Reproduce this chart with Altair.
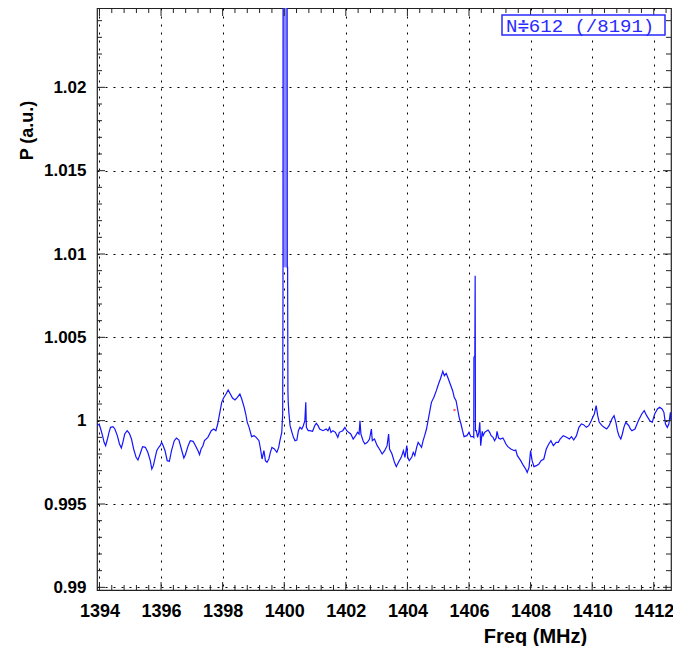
import altair as alt
import numpy as np
import pandas as pd

# ---- spectrum ----
freq = [
 1393.93,1393.99,1394.04,1394.10,1394.15,1394.20,1394.26,1394.31,1394.36,1394.44,1394.50,1394.58,1394.65,1394.71,
 1394.76,1394.82,1394.90,1394.97,1395.04,1395.11,1395.19,1395.25,1395.32,1395.40,1395.49,1395.57,1395.65,1395.70,
 1395.75,1395.81,1395.86,1395.91,1395.97,1396.02,1396.07,1396.13,1396.20,1396.27,1396.34,1396.43,1396.50,1396.58,
 1396.66,1396.74,1396.79,1396.88,1396.95,1397.04,1397.09,1397.20,1397.25,1397.30,1397.36,1397.41,1397.52,1397.63,
 1397.71,1397.78,1397.84,1397.89,1397.97,1398.03,1398.11,1398.18,1398.25,1398.32,1398.40,1398.48,1398.56,1398.62,
 1398.70,1398.75,1398.80,1398.86,1398.94,1399.02,1399.09,1399.18,1399.23,1399.28,1399.34,1399.39,1399.44,1399.50,
 1399.55,1399.60,1399.68,1399.76,1399.82,1399.86,1399.92,1399.95,1399.96,
 1399.965,1400.085,1400.10,1400.11,1400.12,1400.13,1400.15,1400.19,
 1400.25,1400.30,1400.35,1400.41,1400.46,1400.51,1400.57,1400.62,1400.67,1400.70,1400.72,1400.78,1400.83,1400.92,
 1400.99,1401.04,1401.10,1401.15,1401.26,1401.36,1401.42,1401.47,1401.52,1401.58,1401.66,1401.74,1401.79,1401.90,
 1401.97,1402.03,1402.09,1402.16,1402.24,1402.32,1402.38,1402.43,1402.46,1402.49,1402.56,1402.62,1402.70,1402.77,
 1402.83,1402.86,1402.93,1403.02,1403.09,1403.18,1403.26,1403.34,1403.39,1403.42,1403.50,1403.58,1403.64,1403.71,
 1403.80,1403.87,1403.92,1403.98,1404.01,1404.06,1404.14,1404.19,1404.24,1404.30,1404.35,1404.46,1404.51,1404.56,
 1404.62,1404.67,1404.72,1404.78,1404.86,1404.94,1405.01,1405.07,1405.15,1405.20,1405.26,1405.31,1405.39,1405.47,
 1405.52,1405.58,1405.63,1405.68,1405.74,1405.79,1405.84,1405.93,1406.00,1406.06,1406.14,1406.155,1406.16,1406.19,
 1406.20,1406.21,1406.24,1406.28,1406.32,1406.35,1406.38,1406.43,1406.46,1406.51,1406.56,1406.62,1406.67,1406.72,
 1406.78,1406.83,1406.88,1406.91,1406.96,1407.02,1407.10,1407.15,1407.20,1407.26,1407.36,1407.47,1407.52,1407.57,
 1407.68,1407.77,1407.84,1407.89,1407.95,1408.00,1408.05,1408.11,1408.19,1408.27,1408.34,1408.43,1408.51,1408.59,
 1408.66,1408.74,1408.83,1408.90,1408.96,1409.06,1409.17,1409.26,1409.33,1409.40,1409.49,1409.57,1409.65,1409.72,
 1409.81,1409.89,1409.97,1410.02,1410.07,1410.13,1410.18,1410.23,1410.32,1410.39,1410.47,1410.55,1410.64,1410.71,
 1410.77,1410.82,1410.87,1410.93,1410.98,1411.03,1411.09,1411.14,1411.19,1411.24,1411.29,1411.39,1411.50,1411.61,
 1411.69,1411.77,1411.87,1411.95,1412.03,1412.12,1412.19,1412.27,1412.33,1412.38,1412.44,1412.49,1412.54,1412.56,
]
power = [
 0.9997,0.9998,0.9995,0.9991,0.9987,0.9985,0.9989,0.9993,0.9996,0.99964,0.9995,0.9991,0.9986,0.99836,
 0.9987,0.9992,0.9994,0.99924,0.9989,0.9983,0.9978,0.99764,0.9980,0.99844,0.9984,0.9981,0.9976,0.9971,
 0.9973,0.9978,0.9982,0.99836,0.9985,0.9987,0.9985,0.9982,0.9976,0.99756,0.9982,0.9988,0.99896,0.99884,
 0.9983,0.99776,0.99796,0.9985,0.9988,0.99876,0.9986,0.9982,0.99796,0.9983,0.9985,0.9988,0.9990,0.9994,
 0.9995,0.9994,0.9998,1.0003,1.0011,1.00136,1.0016,1.00184,1.0016,1.00136,1.00124,1.0014,1.0016,1.0013,
 1.0008,1.0004,0.9999,0.9996,0.99904,0.9991,0.9990,0.9988,0.9983,0.9977,0.9982,0.9976,0.9975,0.9977,
 0.9981,0.9984,0.9983,0.9981,0.9984,0.9988,0.9993,1.0004,1.0076,
 1.0500,1.0500,1.0092,1.0092,1.0018,1.0011,1.0005,0.9997,
 0.9993,0.9990,0.9988,0.99884,0.9994,0.9996,0.9995,0.9997,1.0000,1.0011,0.9996,0.9994,0.9994,0.99936,
 0.9997,0.99984,0.9997,0.9995,0.9994,0.9995,0.9994,0.9996,0.9993,0.9994,0.9993,0.9990,0.9993,0.9994,
 0.9996,0.9994,0.9993,0.9992,0.9989,0.9991,0.9993,0.9992,1.0000,0.9992,0.9988,0.9986,0.9987,0.9989,
 0.9995,0.9988,0.9989,0.9985,0.9983,0.9980,0.9982,0.9985,0.9992,0.9983,0.9980,0.9975,0.99724,0.9975,
 0.9978,0.9982,0.9978,0.9985,0.9978,0.9976,0.9978,0.9981,0.9979,0.9984,0.9987,0.9984,0.9988,0.9991,
 0.9995,1.0000,1.0005,1.0011,1.0014,1.0018,1.0022,1.0025,1.00296,1.0027,1.00284,1.0026,1.0022,1.0018,
 1.0014,1.0012,1.0007,1.0002,0.9998,0.9994,0.99904,0.9991,0.9993,0.99904,0.99904,0.9990,1.0038,1.0039,
 1.0087,0.9994,0.9994,0.9990,0.9993,0.9999,0.9985,0.99936,0.9991,0.9993,0.99936,0.99944,0.9993,0.9991,
 0.9990,0.9988,0.99896,0.99936,0.99896,0.9989,0.99896,0.9988,0.9986,0.99844,0.9983,0.9982,0.99824,0.9979,
 0.9976,0.9973,0.9971,0.9969,0.9972,0.9982,0.9976,0.99724,0.9973,0.9974,0.9976,0.9977,0.9983,0.9986,
 0.9988,0.9985,0.9987,0.9987,0.9989,0.9991,0.9990,0.9989,0.99904,0.99884,0.9991,0.9996,0.9998,0.99976,
 0.9996,0.9997,1.0000,1.0002,1.0004,1.0009,1.0003,0.9999,0.9997,0.9996,0.9995,0.9997,1.0001,1.0003,
 0.9999,0.9994,0.9991,0.9989,0.9992,0.9996,0.9999,0.9998,0.9997,0.9995,0.9994,0.9995,1.0000,1.0004,
 1.0006,1.0003,1.0000,0.9999,1.0004,1.0007,1.0008,1.0007,1.0005,0.9998,0.9996,0.9998,1.0005,1.0000,
]

# unresolved band of samples inside the 1400 MHz spike
band_f = [1399.965, 1400.085]
band_p = [1.0092, 1.0500]

# isolated red sample
red_freq = [1405.53]
red_power = [1.00064]

# axes
x_major = [1394, 1396, 1398, 1400, 1402, 1404, 1406, 1408, 1410, 1412]
y_major = [0.99, 0.995, 1.0, 1.005, 1.01, 1.015, 1.02]
x_domain = [1393.92, 1412.56]
y_domain = [0.98984, 1.02476]
legend_text = "N≑612 (/8191)"

W, H = 574, 582

x_minor = [round(v, 1) for v in np.arange(1394.0, 1412.5, 0.4) if round(v, 1) not in x_major]
y_minor = [round(v, 3) for v in np.arange(0.990, 1.0245, 0.001) if min(abs(round(v, 3) - m) for m in y_major) > 1e-6]

df = pd.DataFrame({"f": freq, "p": power})
df["i"] = range(len(df))
red = pd.DataFrame({"f": red_freq, "p": red_power})
band = pd.DataFrame({"f": [band_f[0]], "f2": [band_f[1]], "p": [band_p[0]], "p2": [band_p[1]]})

xs = alt.Scale(domain=x_domain, nice=False, zero=False)
ys = alt.Scale(domain=y_domain, nice=False, zero=False)

x_axis = alt.Axis(
    values=x_major, format="d", title="Freq (MHz)", grid=True, ticks=False, domain=False,
    labelPadding=12, labelFontSize=18, titleFontSize=20,
    titleX=438, titleY=46, titleAnchor="middle", titleBaseline="middle", titleAlign="center")
y_axis = alt.Axis(
    values=y_major, format=".3~f", title="P (a.u.)", grid=True, ticks=False, domain=False,
    labelPadding=11, labelFontSize=17, titleFontSize=18,
    titleX=-70, titleY=122, titleAngle=-90, titleAlign="center", titleBaseline="middle")

line = alt.Chart(df).mark_line(color="#1414ff", strokeWidth=1.2, clip=True).encode(
    x=alt.X("f:Q", scale=xs, axis=x_axis),
    y=alt.Y("p:Q", scale=ys, axis=y_axis),
    order="i:Q",
)

band_layer = alt.Chart(band).mark_rect(color="#8a8aff", clip=True).encode(
    x=alt.X("f:Q", scale=xs, axis=x_axis), x2="f2:Q",
    y=alt.Y("p:Q", scale=ys, axis=y_axis), y2="p2:Q")

redpt = alt.Chart(red).mark_point(filled=True, shape="square", size=5, color="#ff4040", opacity=0.8).encode(
    x=alt.X("f:Q", scale=xs, axis=x_axis), y=alt.Y("p:Q", scale=ys, axis=y_axis))

def xticks(vals, length, top):
    d = pd.DataFrame({"f": vals})
    if top:
        enc = dict(y=alt.value(0), y2=alt.value(length))
    else:
        enc = dict(y=alt.value(H), y2=alt.value(H - length))
    return alt.Chart(d).mark_rule(color="#222", strokeWidth=1).encode(
        x=alt.X("f:Q", scale=xs, axis=x_axis), **enc)

def yticks(vals, length, right):
    d = pd.DataFrame({"p": vals})
    if right:
        enc = dict(x=alt.value(W), x2=alt.value(W - length))
    else:
        enc = dict(x=alt.value(0), x2=alt.value(length))
    return alt.Chart(d).mark_rule(color="#222", strokeWidth=1).encode(
        y=alt.Y("p:Q", scale=ys, axis=y_axis), **enc)

ticks = [
    xticks(x_major, 8, False), xticks(x_minor, 5, False),
    xticks(x_major, 8, True), xticks(x_minor, 5, True),
    yticks(y_major, 8, False), yticks(y_minor, 5, False),
    yticks(y_major, 8, True), yticks(y_minor, 5, True),
]

box = alt.Chart(pd.DataFrame({"a": [0]})).mark_rect(
    fill="white", stroke="#2a2aff", strokeWidth=1.5).encode(
    x=alt.value(W - 169), x2=alt.value(W - 6), y=alt.value(7), y2=alt.value(27))
label = alt.Chart(pd.DataFrame({"a": [0]})).mark_text(
    text=legend_text, font="Liberation Mono, DejaVu Sans Mono, monospace", fontSize=19,
    color="#2a2aff", align="left", baseline="middle").encode(
    x=alt.value(W - 165), y=alt.value(18))

chart = alt.layer(band_layer, line, redpt, *ticks, box, label).properties(
    width=W, height=H,
    background="white",
    autosize=alt.AutoSizeParams(type="none"),
    padding={"left": 89, "top": 0, "right": 2, "bottom": 56},
).configure_view(stroke="#222", strokeWidth=1.2).configure_axis(
    labelFont="Liberation Sans", labelFontWeight="bold", labelColor="black",
    titleFont="Liberation Sans", titleFontWeight="bold", titleColor="black",
    gridColor="black", gridDash=[2, 6], gridOpacity=1, gridWidth=1,
)

chart.save("out.html", embed_options={"renderer": "svg", "actions": False})
